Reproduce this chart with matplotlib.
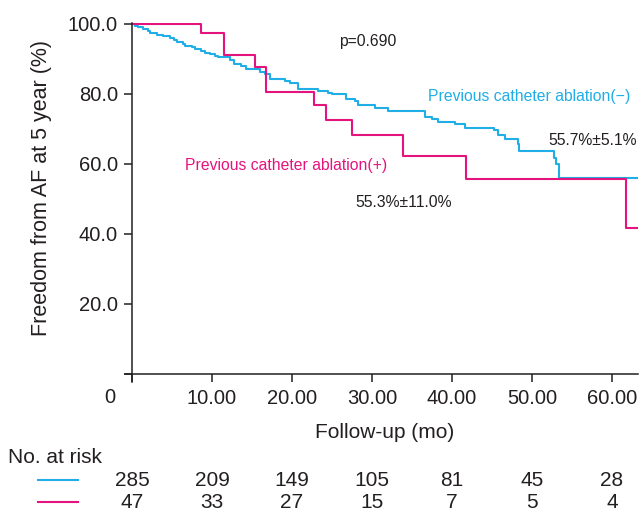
import matplotlib
matplotlib.use("Agg")
import matplotlib.pyplot as plt
from matplotlib.lines import Line2D

plt.rcParams['font.family'] = ['Liberation Sans', 'DejaVu Sans']

# Kaplan-Meier step points (time in months, survival %)
neg_t = [0, 0.4, 0.7, 1.4, 2.0, 2.3, 3.1, 3.9, 4.7, 5.2, 5.6, 6.4, 6.6, 7.5, 7.9,
         8.6, 9.1, 9.75, 10.4, 10.8, 12.2, 12.7, 13.6, 14.3, 16.0, 16.6, 17.2,
         19.1, 19.7, 20.8, 23.3, 24.5, 25.0, 26.8, 27.9, 28.3, 30.4, 32.0, 36.6,
         37.5, 38.3, 40.4, 41.6, 45.2, 45.8, 46.6, 48.3, 48.4, 52.7, 53.0, 53.4, 63.3]
neg_s = [100, 99.5, 99.2, 98.6, 98.0, 97.3, 96.9, 96.5, 96.0, 95.5, 94.9, 94.3, 93.6,
         93.3, 92.9, 92.4, 91.8, 91.4, 90.9, 90.5, 89.6, 88.5, 87.9, 87.1, 86.4, 85.7,
         84.3, 83.7, 83.1, 81.5, 80.9, 80.4, 79.9, 78.6, 78.0, 76.8, 75.9, 75.1, 73.3,
         72.8, 71.9, 71.4, 70.2, 69.6, 68.3, 67.0, 65.8, 63.8, 61.6, 60.0, 56.0, 56.0]

pos_t = [0, 8.6, 11.5, 15.4, 16.8, 22.8, 24.3, 27.5, 33.9, 41.7, 61.7, 63.3]
pos_s = [100, 97.3, 91.1, 87.6, 80.7, 76.9, 72.6, 68.4, 62.4, 55.7, 41.7, 41.7]

risk_times = [0, 10, 20, 30, 40, 50, 60]
risk_neg = [285, 209, 149, 105, 81, 45, 28]
risk_pos = [47, 33, 27, 15, 7, 5, 4]

x_ticks = [0, 10, 20, 30, 40, 50, 60]
x_labels = ["", "10.00", "20.00", "30.00", "40.00", "50.00", "60.00"]
y_ticks = [0, 20, 40, 60, 80, 100]
y_labels = ["", "20.0", "40.0", "60.0", "80.0", "100.0"]

BLUE = "#1FAEE6"
PINK = "#E5137E"
DARK = "#231F20"

W, H = 641, 511
fig = plt.figure(figsize=(W / 100, H / 100), dpi=100)
ax = fig.add_axes([124.8 / W, 1 - 382 / H, 513.2 / W, 359.4 / H])

ax.step(neg_t, neg_s, where='post', color=BLUE, lw=1.5)
ax.step(pos_t, pos_s, where='post', color=PINK, lw=1.5)

ax.set_xlim(-0.9, 63.25)
ax.set_ylim(-2.3, 100.4)

for side in ['top', 'right']:
    ax.spines[side].set_visible(False)
ax.spines['left'].set_position(('data', 0))
ax.spines['bottom'].set_position(('data', 0))
for side in ['left', 'bottom']:
    ax.spines[side].set_color(DARK)
    ax.spines[side].set_linewidth(1.1)

ax.set_xticks(x_ticks)
ax.set_xticklabels(x_labels)
ax.set_yticks(y_ticks)
ax.set_yticklabels(y_labels)
ax.tick_params(axis='both', direction='out', length=6, width=1.1, colors=DARK,
               labelsize=14.5, labelcolor=DARK)
ax.tick_params(axis='y', pad=4)
ax.tick_params(axis='x', pad=5)

ax.annotate("0", xy=(0, 0), xytext=(-15.8, -17.3), textcoords='offset points',
            ha='center', va='center', fontsize=14.5, color=DARK)

ax.set_xlabel("Follow-up (mo)", fontsize=15, color=DARK, va='center')
ax.xaxis.set_label_coords((385 - 124.8) / 513.2, (382 - 433) / 359.4)
ax.set_ylabel("Freedom from AF at 5 year (%)", fontsize=15.5, color=DARK, va='center')
ax.yaxis.set_label_coords((42 - 124.8) / 513.2, (382 - 188) / 359.4)

# annotations
ax.text(29.5, 95.1, "p=0.690", fontsize=11.3, color=DARK, ha='center', va='center')
ax.text(37.0, 79.2, "Previous catheter ablation(\u2212)", fontsize=11.3, color=BLUE,
        ha='left', va='center')
ax.text(52.0, 66.8, "55.7%\u00b15.1%", fontsize=11.3, color=DARK, ha='left', va='center')
ax.text(6.6, 59.7, "Previous catheter ablation(+)", fontsize=11.3, color=PINK,
        ha='left', va='center')
ax.text(27.9, 49.1, "55.3%\u00b111.0%", fontsize=11.3, color=DARK, ha='left', va='center')

# number at risk table
fig.text(8 / W, 1 - 457 / H, "No. at risk", fontsize=15, color=DARK, ha='left', va='center')
trans = matplotlib.transforms.blended_transform_factory(ax.transData, fig.transFigure)
for t, n1, n2 in zip(risk_times, risk_neg, risk_pos):
    fig.text(t, 1 - 480 / H, str(n1), transform=trans, fontsize=15, color=DARK,
             ha='center', va='center')
    fig.text(t, 1 - 502 / H, str(n2), transform=trans, fontsize=15, color=DARK,
             ha='center', va='center')
fig.add_artist(Line2D([38 / W, 78 / W], [1 - 480 / H] * 2, color=BLUE, lw=1.5))
fig.add_artist(Line2D([38 / W, 78 / W], [1 - 502 / H] * 2, color=PINK, lw=1.5))

fig.savefig("out.png", dpi=100)
